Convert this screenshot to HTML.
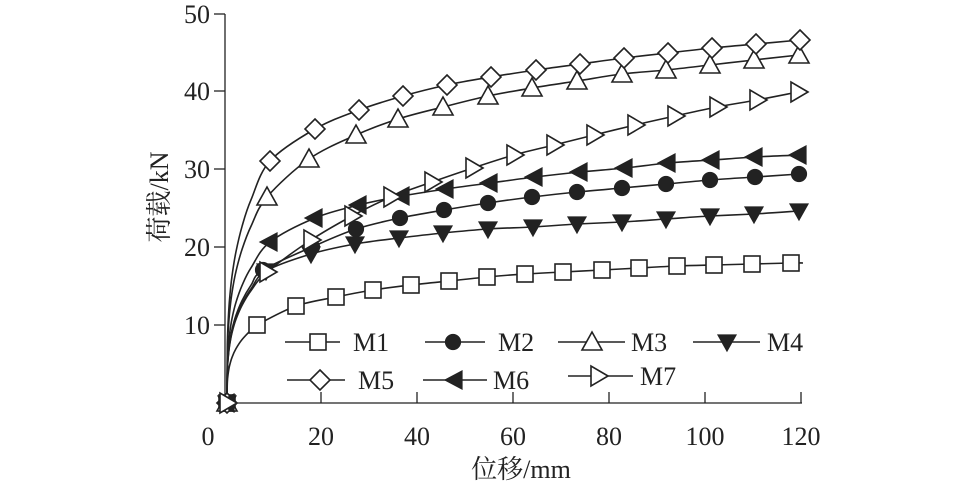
<!DOCTYPE html>
<html><head><meta charset="utf-8"><style>
html,body{margin:0;padding:0;background:#fff;}
svg{display:block;font-family:"Liberation Serif","Noto Serif CJK SC",serif;}
</style></head><body>
<svg id="s" width="957" height="491" viewBox="0 0 957 491" xmlns="http://www.w3.org/2000/svg">
<g stroke="#222" stroke-width="1.3" fill="none">
<line x1="225" y1="14" x2="225" y2="403"/>
<line x1="225" y1="403" x2="802" y2="403"/>
<line x1="214" y1="14" x2="225" y2="14"/>
<line x1="214" y1="91" x2="225" y2="91"/>
<line x1="214" y1="169" x2="225" y2="169"/>
<line x1="214" y1="247" x2="225" y2="247"/>
<line x1="214" y1="325" x2="225" y2="325"/>
<line x1="321" y1="403" x2="321" y2="392"/>
<line x1="417" y1="403" x2="417" y2="392"/>
<line x1="513" y1="403" x2="513" y2="392"/>
<line x1="609" y1="403" x2="609" y2="392"/>
<line x1="705" y1="403" x2="705" y2="392"/>
<line x1="801" y1="403" x2="801" y2="392"/>
</g>
<g font-size="26" fill="#222" text-anchor="end">
<text x="210" y="23">50</text><text x="210" y="100">40</text><text x="210" y="178">30</text><text x="210" y="256">20</text><text x="210" y="334">10</text>
</g>
<g font-size="26" fill="#222" text-anchor="middle">
<text x="208" y="445">0</text><text x="321" y="445">20</text><text x="417" y="445">40</text><text x="513" y="445">60</text><text x="609" y="445">80</text><text x="705" y="445">100</text><text x="801" y="445">120</text>
<text x="521" y="478">位移/mm</text>
<text transform="translate(168,197) rotate(-90)">荷载/kN</text>
</g>
<g id="curves"></g>
<g id="legend" font-size="26" fill="#222"></g>
</svg>
<script>
var S={
M1:{m:'sq',p:[[257,325],[296,306],[336,297],[373,290],[411,285],[449,281],[487,277],[525,274],[563,272],[602,270],[639,268],[677,266],[714,265],[752,264],[791,263]],end:[803,263]},
M2:{m:'ci',p:[[263,270],[312,247],[356,229],[400,218],[444,210],[488,203],[532,197],[577,192],[622,188],[666,184],[710,180],[755,177],[799,174]]},
M3:{m:'tu',p:[[267,197],[309,159],[356,135],[398,119],[443,107],[488,96],[532,88],[577,81],[622,74],[666,70],[710,65],[754,60],[799,55]]},
M4:{m:'td',p:[[266,271],[311,254],[355,244],[399,238],[443,233],[488,229],[533,227],[577,224],[622,222],[666,219],[710,216],[754,214],[799,211]]},
M5:{m:'di',p:[[270,161],[315,129],[359,110],[403,96],[447,85],[491,77],[536,70],[580,64],[624,58],[668,53],[712,48],[756,44],[800,40]]},
M6:{m:'tl',p:[[270,242],[315,218],[359,205],[402,196],[446,189],[490,183],[535,177],[580,172],[625,168],[668,163],[712,160],[755,157],[799,155]]},
M7:{m:'tr',p:[[267,272],[311,240],[352,216],[391,197],[432,182],[473,168],[514,155],[554,145],[594,135],[635,125],[675,116],[717,107],[757,100],[798,92]]}
};
function marker(t,x,y){
 var w='fill="#fff" stroke="#222" stroke-width="1.6"', b='fill="#222" stroke="#222" stroke-width="1.2"';
 switch(t){
 case 'sq':return '<rect x="'+(x-8)+'" y="'+(y-8)+'" width="16" height="16" '+w+'/>';
 case 'ci':return '<circle cx="'+x+'" cy="'+y+'" r="7.5" '+b+'/>';
 case 'tu':return '<polygon points="'+x+','+(y-10)+' '+(x+10)+','+(y+8)+' '+(x-10)+','+(y+8)+'" '+w+'/>';
 case 'td':return '<polygon points="'+x+','+(y+9)+' '+(x+9)+','+(y-7)+' '+(x-9)+','+(y-7)+'" '+b+'/>';
 case 'di':return '<polygon points="'+x+','+(y-10)+' '+(x+10)+','+y+' '+x+','+(y+10)+' '+(x-10)+','+y+'" '+w+'/>';
 case 'tl':return '<polygon points="'+(x-10)+','+y+' '+(x+7)+','+(y-9)+' '+(x+7)+','+(y+9)+'" '+b+'/>';
 case 'tr':return '<polygon points="'+(x+10)+','+y+' '+(x-7)+','+(y-10)+' '+(x-7)+','+(y+10)+'" '+w+'/>';
 }
}
function cr(pts){
 var d='M'+pts[0][0]+','+pts[0][1];
 for(var i=0;i<pts.length-1;i++){
  var p0=pts[Math.max(0,i-1)],p1=pts[i],p2=pts[i+1],p3=pts[Math.min(pts.length-1,i+2)];
  var c1=[p1[0]+(p2[0]-p0[0])/6,p1[1]+(p2[1]-p0[1])/6],c2=[p2[0]-(p3[0]-p1[0])/6,p2[1]-(p3[1]-p1[1])/6];
  d+=' C'+c1[0].toFixed(1)+','+c1[1].toFixed(1)+' '+c2[0].toFixed(1)+','+c2[1].toFixed(1)+' '+p2[0]+','+p2[1];
 }
 return d;
}
var h='',mk='';
for(var k in S){
 var s=S[k],f=s.p[0],d=403-f[1];
 var pts=[[227,403]];
 [0.3,1,2.5,5,9,15,24].forEach(function(dx){
   var x=227+dx; if(x<f[0]-4) pts.push([x,403-d*Math.pow(dx/(f[0]-227),0.3)]);
 });
 pts=pts.concat(s.p);
 if(s.end)pts.push(s.end);
 h+='<path d="'+cr(pts)+'" fill="none" stroke="#222" stroke-width="1.6"/>';
 s.p.forEach(function(q){mk+=marker(s.m,q[0],q[1]);});
 mk+=marker(s.m,227,403);
}
document.getElementById('curves').innerHTML=h+mk;
var L=[['M1','sq',285,340,318,353,342],['M2','ci',425,485,453,498,342],['M3','tu',558,625,592,631,342],['M4','td',693,760,727,767,342],
['M5','di',287,345,320,358,380],['M6','tl',423,487,455,493,380],['M7','tr',568,633,598,640,376]];
var g='';
L.forEach(function(l){
 g+='<line x1="'+l[2]+'" y1="'+l[6]+'" x2="'+l[3]+'" y2="'+l[6]+'" stroke="#222" stroke-width="1.6"/>';
 g+=marker(l[1],l[4],l[6]);
 g+='<text x="'+l[5]+'" y="'+(l[6]+9)+'">'+l[0]+'</text>';
});
document.getElementById('legend').innerHTML=g;
</script>
</body></html>
